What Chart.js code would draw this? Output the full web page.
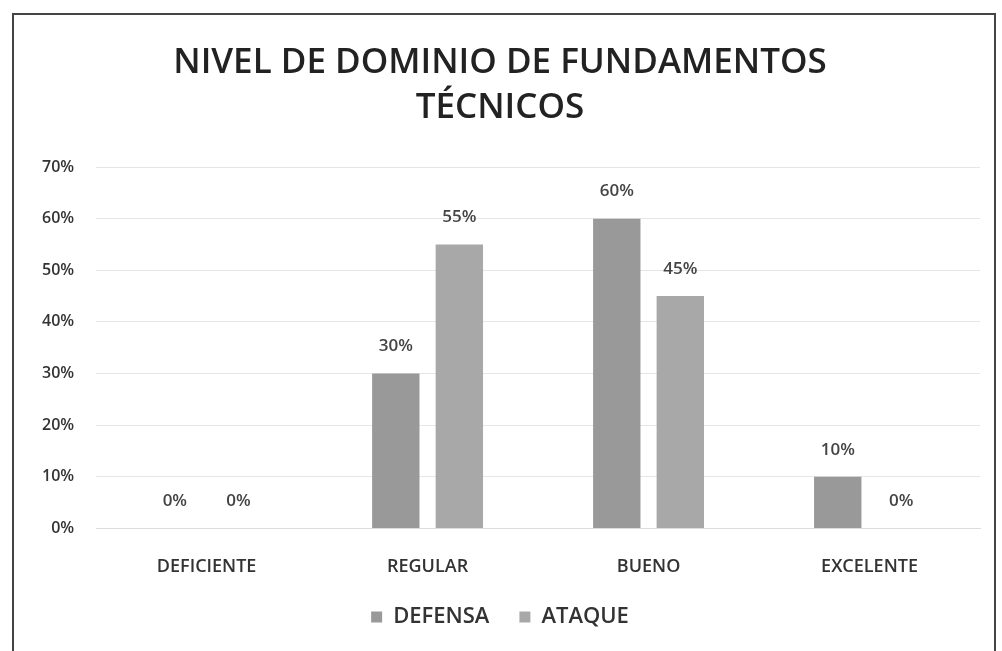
<!DOCTYPE html>
<html><head><meta charset="utf-8">
<script src="https://cdn.jsdelivr.net/npm/chart.js@4"></script>
<style>
html,body{margin:0;padding:0;background:#fff;}
#frame{position:absolute;left:12px;top:13px;width:984px;height:640px;border:2px solid #444;border-bottom:none;box-sizing:border-box;}
#wrap{position:absolute;left:0;top:0;width:1002px;height:651px;}
</style></head><body>
<div id="frame"></div>
<div id="wrap"><canvas id="c" width="1002" height="651"></canvas></div>
<script>
const categories = ["DEFICIENTE","REGULAR","BUENO","EXCELENTE"];
const defensa = [0,30,60,10];
const ataque = [0,55,45,0];
const yTicks = [0,10,20,30,40,50,60,70];
const titleLines = ["NIVEL DE DOMINIO DE FUNDAMENTOS","TÉCNICOS"];

const FONT2 = "'Open Sans', sans-serif";

const labelPlugin = {
  id:'dl',
  afterDatasetsDraw(chart){
    const ctx = chart.ctx;
    ctx.save();
    ctx.font = "600 17px " + FONT2;
    ctx.fillStyle = "#444";
    ctx.textAlign = "center";
    ctx.textBaseline = "middle";
    chart.data.datasets.forEach((ds,i)=>{
      chart.getDatasetMeta(i).data.forEach((bar,j)=>{
        ctx.fillText(ds.data[j]+"%", bar.x, bar.y-27);
      });
    });
    ctx.restore();
  }
};

new Chart(document.getElementById('c'),{
  type:'bar',
  data:{
    labels:categories,
    datasets:[
      {label:"DEFENSA",data:defensa,backgroundColor:"#999999"},
      {label:"ATAQUE",data:ataque,backgroundColor:"#a8a8a8"}
    ]
  },
  options:{
    responsive:false,
    animation:false,
    devicePixelRatio:1,
    categoryPercentage:0.575,
    barPercentage:0.746,
    layout:{padding:{left:20,right:22,top:0,bottom:13}},
    plugins:{
      title:{display:true,text:titleLines,font:{family:FONT2,size:35,weight:'600',lineHeight:1.3},color:"#222",padding:{top:40,bottom:36}},
      legend:{position:'bottom',labels:{font:{family:FONT2,size:22,weight:'600'},color:"#333",boxWidth:11,boxHeight:11,padding:30}},
      tooltip:{enabled:false}
    },
    scales:{
      x:{grid:{display:false},border:{display:true,color:"#ddd"},
         afterFit(s){s.height -= 22;},
         ticks:{font:{family:FONT2,size:18,weight:'600'},color:"#333",padding:20}},
      y:{min:0,max:70,afterBuildTicks(ax){ax.ticks=yTicks.map(v=>({value:v}));},
         grid:{color:"#e6e6e6",drawTicks:false},border:{display:false},
         ticks:{font:{family:FONT2,size:16,weight:'600'},color:"#333",padding:22,callback:v=>v+"%"}}
    }
  },
  plugins:[labelPlugin]
});
</script>
</body></html>
